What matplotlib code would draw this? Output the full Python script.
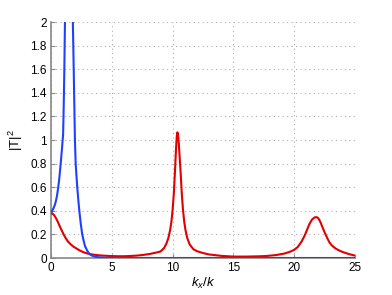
import matplotlib
matplotlib.use("Agg")
import matplotlib.pyplot as plt

plt.rcParams['font.family'] = ['Liberation Sans', 'DejaVu Sans']
plt.rcParams['mathtext.fontset'] = 'custom'
plt.rcParams['mathtext.rm'] = 'Liberation Sans'
plt.rcParams['mathtext.it'] = 'Liberation Sans:italic'

# blue curve (k_x/k, |T|^2)
kb = [0, 0.05, 0.1, 0.2, 0.3, 0.4, 0.5, 0.6, 0.7, 0.8, 0.9, 1.0, 1.05, 1.1, 1.15, 1.2, 1.25,
      1.5, 1.75, 1.8, 1.87, 1.97, 2.03, 2.1, 2.16, 2.25, 2.33, 2.45, 2.57, 2.7, 2.8, 3.0,
      3.2, 3.4, 3.6, 3.8, 4.0, 4.5, 5.0, 6.0, 25.0]
tb = [0.38, 0.39, 0.40, 0.42, 0.445, 0.48, 0.53, 0.6, 0.69, 0.8, 0.92, 1.05, 1.3, 1.6, 2.0, 2.6, 3.5,
      6.0, 3.0, 2.0, 1.6, 1.0, 0.8, 0.69, 0.6, 0.49, 0.4, 0.29, 0.2, 0.14, 0.1, 0.058,
      0.03, 0.019, 0.012, 0.008, 0.005, 0.002, 0.001, 0.0, 0.0]

# red curve
kr = [0, 0.1, 0.2, 0.3, 0.4, 0.5, 0.6, 0.74, 0.9, 1.05, 1.2, 1.4, 1.6, 1.8, 2.1, 2.4, 2.7,
      3.0, 3.4, 4.0, 4.85, 5.5, 6.0, 6.5, 7.0, 7.5, 8.1, 8.6, 9.0, 9.3, 9.5, 9.65, 9.8,
      9.9, 10.0, 10.1, 10.2, 10.28, 10.34, 10.39, 10.44, 10.5, 10.58, 10.66, 10.75,
      10.85, 10.95, 11.05, 11.2, 11.4, 11.7, 12.0, 12.5, 13.0, 14.0, 15.0, 16.0, 17.0,
      17.7, 18.5, 19.2, 19.65, 20.0, 20.3, 20.6, 20.85, 21.05, 21.25, 21.45, 21.65, 21.8,
      21.95, 22.12, 22.3, 22.5, 22.7, 22.9, 23.1, 23.4, 23.7, 24.0, 24.5, 25.0]
tr = [0.38, 0.377, 0.37, 0.357, 0.34, 0.32, 0.298, 0.265, 0.23, 0.198, 0.17, 0.14, 0.118,
      0.1, 0.08, 0.062, 0.048, 0.038, 0.03, 0.022, 0.017, 0.015, 0.015, 0.017, 0.02, 0.025,
      0.034, 0.045, 0.055, 0.085, 0.125, 0.17, 0.24, 0.31, 0.41, 0.55, 0.75, 0.93, 1.03,
      1.065, 1.05, 0.98, 0.85, 0.72, 0.55, 0.41, 0.31, 0.24, 0.17, 0.115, 0.075, 0.058,
      0.042, 0.03, 0.018, 0.012, 0.012, 0.014, 0.017, 0.025, 0.038, 0.053, 0.07, 0.095,
      0.14, 0.19, 0.24, 0.29, 0.325, 0.343, 0.347, 0.34, 0.31, 0.265, 0.215, 0.17, 0.13,
      0.105, 0.08, 0.063, 0.05, 0.033, 0.02]

xticks = [0, 5, 10, 15, 20, 25]
yticks = [0, 0.2, 0.4, 0.6, 0.8, 1, 1.2, 1.4, 1.6, 1.8, 2]
yticklabels = ['0', '0.2', '0.4', '0.6', '0.8', '1', '1.2', '1.4', '1.6', '1.8', '2']

fig = plt.figure(figsize=(3.92, 2.95), dpi=100)
ax = fig.add_axes([0.130, 0.1254, 0.776, 0.8])

ax.plot(kr, tr, color='#e00000', lw=1.5, zorder=3, solid_joinstyle='round')
ax.plot(kb, tb, color='#2040ff', lw=1.5, zorder=3, solid_joinstyle='round')

ax.set_xlim(0, 25)
ax.set_ylim(0, 2)
ax.set_xticks(xticks)
ax.set_yticks(yticks)
ax.set_yticklabels(yticklabels)
ax.grid(True, linestyle=(0, (1, 3)), color='#b0b0b0', lw=0.8)
for s in ['top', 'right']:
    ax.spines[s].set_visible(False)
for s in ['left', 'bottom']:
    ax.spines[s].set_color('#888888')
    ax.spines[s].set_linewidth(1.2)
ax.tick_params(direction='in', length=3, color='#888888', labelsize=8.5, pad=3)
ax.set_xlabel(r'$k_x/k$', fontsize=9.5, labelpad=1)
ax.set_ylabel(r'$|\mathrm{T}|^2$', fontsize=9.5, labelpad=4)

fig.savefig('out.png', dpi=100)
